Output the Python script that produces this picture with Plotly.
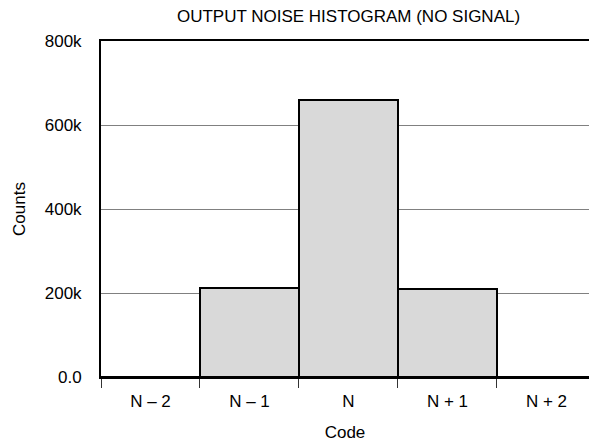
import plotly.graph_objects as go

categories = ["N – 2", "N – 1", "N", "N + 1", "N + 2"]
counts = [0, 212000, 660000, 210000, 0]
y_tick_vals = [0, 200000, 400000, 600000, 800000]
y_tick_text = ["0.0", "200k", "400k", "600k", "800k"]

font = "Liberation Sans, Arial, sans-serif"
FS = 17

fig = go.Figure()
fig.add_trace(go.Bar(
    x=categories, y=counts,
    marker=dict(color="#d9d9d9", line=dict(color="black", width=2)),
    showlegend=False,
))

fig.update_layout(
    width=589, height=442,
    margin=dict(l=101, r=0, t=41, b=65, autoexpand=False),
    paper_bgcolor="white", plot_bgcolor="white",
    bargap=0,
    font=dict(family=font, size=FS, color="black"),
    title=dict(text="OUTPUT NOISE HISTOGRAM (NO SIGNAL)", x=(101 + 495 / 2) / 589,
               xref="container", xanchor="center",
               y=1 - 16 / 442, yref="container", yanchor="middle",
               font=dict(family=font, size=FS, color="black")),
)
fig.update_xaxes(
    type="category", range=[-0.5, 4.43],
    showline=True, linecolor="black", linewidth=2, mirror=True,
    ticks="outside", tickson="boundaries", ticklen=9, tickcolor="#333333", tickwidth=1,
    showgrid=False, automargin=False, ticklabelstandoff=8,
    title=dict(text="Code", standoff=18, font=dict(size=FS)),
    tickfont=dict(size=FS),
)
fig.update_yaxes(
    range=[0, 800000], tickvals=y_tick_vals, ticktext=y_tick_text,
    showline=True, linecolor="black", linewidth=2,
    showgrid=True, gridcolor="#808080", gridwidth=1,
    zeroline=False, ticks="", ticklabelstandoff=14, automargin=False,
    title=dict(text="Counts", standoff=15, font=dict(size=FS)),
    tickfont=dict(size=FS),
)

fig.write_html("out.html", config={"displayModeBar": False},
               post_script="document.body.style.margin='0';")
